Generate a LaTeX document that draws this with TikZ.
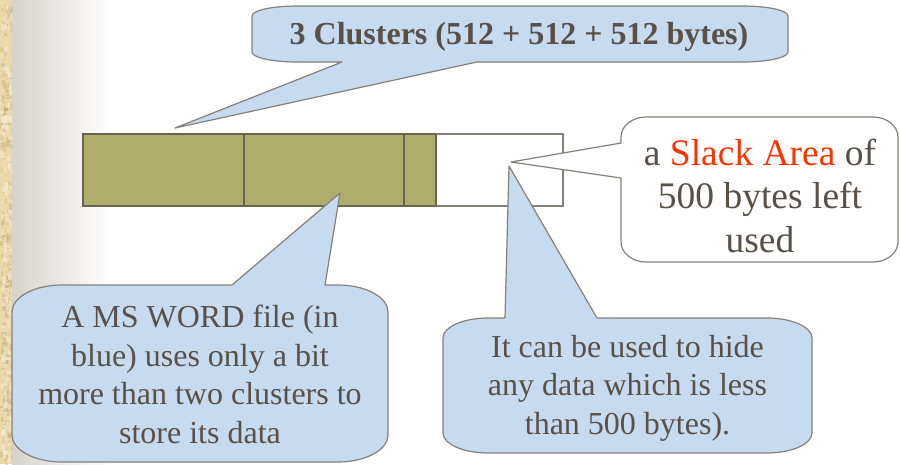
\documentclass[tikz,border=0pt]{standalone}
\usepackage{fontspec}
\setmainfont{Liberation Serif}
\usetikzlibrary{calc}
\definecolor{txt}{RGB}{89,80,72}
\definecolor{callfill}{RGB}{198,219,239}
\definecolor{callline}{RGB}{135,128,120}
\definecolor{olivefill}{RGB}{175,173,107}
\definecolor{barline}{RGB}{105,99,84}
\definecolor{slackred}{RGB}{255,51,0}
\definecolor{parch}{RGB}{232,216,170}
\definecolor{parchdark}{RGB}{196,170,120}
\definecolor{parchlight}{RGB}{245,235,205}
\definecolor{fadegray}{RGB}{214,211,203}
\tikzset{
  callout/.style={draw=callline, line width=1.2pt, fill=callfill, line join=round},
  slackbox/.style={draw=callline, line width=1.2pt, fill=white, line join=round},
  cluster/.style={draw=barline, line width=1.3pt, fill=olivefill},
  emptycell/.style={draw=callline, line width=1.3pt, fill=white},
  bodytext/.style={text=txt, inner sep=0pt, align=center, anchor=base,
    font=\fontsize{32}{38.5}\selectfont},
}
\begin{document}
\begin{tikzpicture}[x=1pt, y=-1pt]
\useasboundingbox (0,0) rectangle (900,464);
% background
\fill[white] (0,0) rectangle (900,464);
\shade[left color=fadegray, right color=white] (12,0) rectangle (112,464);
\fill[white] (111,0) rectangle (113,464);
% parchment strip
\fill[parch] (0,0) rectangle (12,464);
\begin{scope}
\clip (0,0) rectangle (12,464);
\pgfmathsetseed{11}
\foreach \i in {1,...,260} {
  \pgfmathsetmacro\px{rnd*12}
  \pgfmathsetmacro\py{rnd*464}
  \pgfmathsetmacro\pw{1+rnd*4}
  \pgfmathsetmacro\ph{1+rnd*6}
  \pgfmathsetmacro\op{0.15+rnd*0.35}
  \fill[parchdark, opacity=\op] (\px,\py) rectangle ++(\pw,\ph);
}
\foreach \i in {1,...,160} {
  \pgfmathsetmacro\px{rnd*12}
  \pgfmathsetmacro\py{rnd*464}
  \pgfmathsetmacro\pw{1+rnd*4}
  \pgfmathsetmacro\ph{1+rnd*6}
  \fill[parchlight, opacity=0.6] (\px,\py) rectangle ++(\pw,\ph);
}
\end{scope}

% pointer tips
\coordinate (tipTop) at (175,128);
\coordinate (tipSlack) at (511,162);
\coordinate (tipFile) at (340,193);
\coordinate (tipHide) at (509,166);

% cluster bar
\draw[cluster] (83,134) rectangle (244,206);
\draw[cluster] (244,134) rectangle (404,206);
\draw[cluster] (404,134) rectangle (436,206);
\draw[emptycell] (436,134) rectangle (563,206);
\draw[barline, line width=1.3pt] (436,134) -- (436,206);

% top callout
\draw[callout] (297,6) -- (743,6) .. controls (768,6) and (788,10.5) .. (788,16)
  -- (788,52) .. controls (788,57.5) and (768,62) .. (743,62)
  -- (477,62) -- (tipTop) -- (342,62)
  -- (297,62) .. controls (272,62) and (252,57.5) .. (252,52)
  -- (252,16) .. controls (252,10.5) and (272,6) .. (297,6) -- cycle;
\node[bodytext, font=\fontsize{32}{38.5}\selectfont\bfseries] (clusters) at (519,44)
  {3 Clusters (512 + 512 + 512 bytes)};

% slack callout
\draw[slackbox] (646,117) -- (873,117) .. controls (886.8,117) and (898,126) .. (898,137)
  -- (898,242) .. controls (898,253) and (886.8,262) .. (873,262)
  -- (646,262) .. controls (632.2,262) and (621,253) .. (621,242)
  -- (621,178) -- (tipSlack) -- (621,143)
  -- (621,137) .. controls (621,126) and (632.2,117) .. (646,117) -- cycle;
\node[bodytext, font=\fontsize{37.5}{43.5}\selectfont] (slack) at (760,252)
  {a \textcolor{slackred}{Slack Area} of\\500 bytes left\\used};

% file callout
\draw[callout] (62,285) -- (232,285) -- (tipFile) -- (325,285)
  -- (338,285) .. controls (365.6,285) and (388,297.1) .. (388,312)
  -- (388,435) .. controls (388,449.9) and (365.6,462) .. (338,462)
  -- (62,462) .. controls (34.4,462) and (12,449.9) .. (12,435)
  -- (12,312) .. controls (12,297.1) and (34.4,285) .. (62,285) -- cycle;
\node[bodytext] (file) at (200,443)
  {A MS WORD file (in\\blue) uses only a bit\\more than two clusters to\\store its data};

% hide callout
\draw[callout] (488,318) -- (505,318) -- (tipHide) -- (597,318)
  -- (767,318) .. controls (791.8,318) and (812,327) .. (812,338)
  -- (812,433) .. controls (812,444) and (791.8,453) .. (767,453)
  -- (488,453) .. controls (463.2,453) and (443,444) .. (443,433)
  -- (443,338) .. controls (443,327) and (463.2,318) .. (488,318) -- cycle;
\node[bodytext] (hide) at (627.5,434)
  {It can be used to hide\\any data which is less\\than 500 bytes).};
\end{tikzpicture}
\end{document}
